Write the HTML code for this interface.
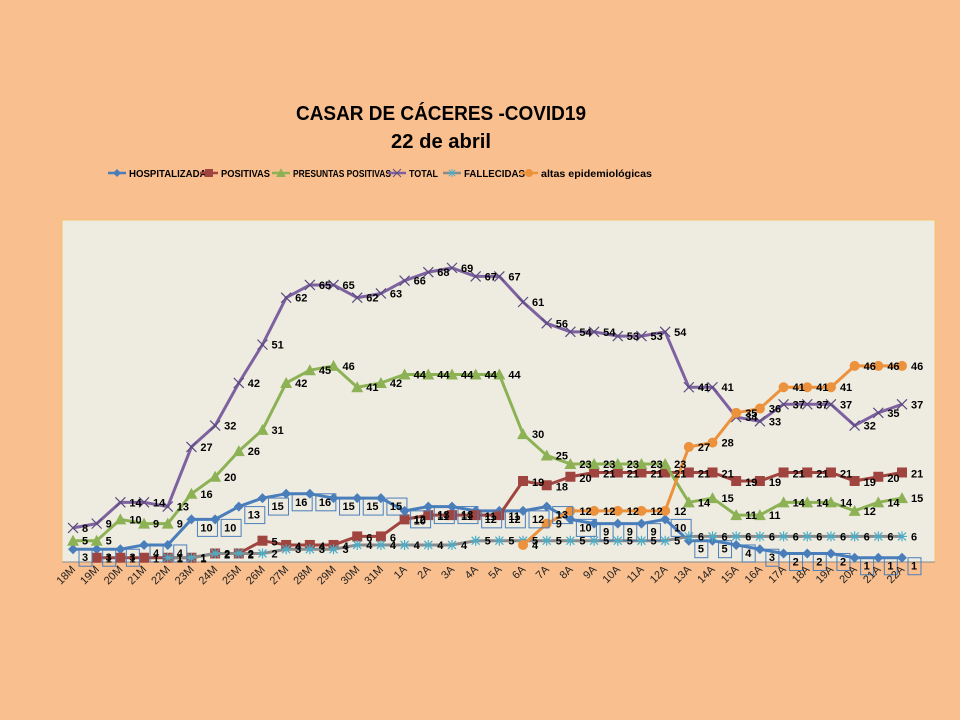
<!DOCTYPE html>
<html><head><meta charset="utf-8"><style>
html,body{margin:0;padding:0;background:#fabf8f;}
svg{display:block;font-family:"Liberation Sans",sans-serif;}
</style></head><body>
<svg id="chart" width="960" height="720" viewBox="0 0 960 720">
<rect x="0" y="0" width="960" height="720" fill="#fabf8f"/>
<text x="441" y="120" text-anchor="middle" font-size="20" font-weight="bold" textLength="290" lengthAdjust="spacingAndGlyphs">CASAR DE CÁCERES -COVID19</text>
<text x="441" y="148" text-anchor="middle" font-size="20" font-weight="bold" textLength="100" lengthAdjust="spacingAndGlyphs">22 de abril</text>
<g id="legend"></g>
<rect x="62" y="220" width="873" height="342" fill="#eeece1" stroke="#f5c36b" stroke-width="1"/>
<line x1="62" y1="562" x2="935" y2="562" stroke="#888" stroke-width="1"/>
<g id="series"></g>
<g id="labels"></g>
<g id="xticks"></g>
</svg>
<script>
const categories=["18M","19M","20M","21M","22M","23M","24M","25M","26M","27M","28M","29M","30M","31M","1A","2A","3A","4A","5A","6A","7A","8A","9A","10A","11A","12A","13A","14A","15A","16A","17A","18A","19A","20A","21A","22A"];
const hospitalizadas=[3,3,3,4,4,10,10,13,15,16,16,15,15,15,12,13,13,12,12,12,13,10,9,9,9,10,5,5,4,3,2,2,2,1,1,1];
const positivas=[null,1,1,1,1,1,2,2,5,4,4,4,6,6,10,11,11,11,11,19,18,20,21,21,21,21,21,21,19,19,21,21,21,19,20,21];
const presuntas=[5,5,10,9,9,16,20,26,31,42,45,46,41,42,44,44,44,44,44,30,25,23,23,23,23,23,14,15,11,11,14,14,14,12,14,15];
const total=[8,9,14,14,13,27,32,42,51,62,65,65,62,63,66,68,69,67,67,61,56,54,54,53,53,54,41,41,34,33,37,37,37,32,35,37];
const fallecidas=[null,null,null,null,1,1,2,2,2,3,3,3,4,4,4,4,4,5,5,5,5,5,5,5,5,5,6,6,6,6,6,6,6,6,6,6];
const altas=[null,null,null,null,null,null,null,null,null,null,null,null,null,null,null,null,null,null,null,4,9,12,12,12,12,12,27,28,35,36,41,41,41,46,46,46];
const yMax=80;
const NS="http://www.w3.org/2000/svg";
const X0=73,X1=902,Y0=562,Y1=221;
function xPos(i){return X0+i*(X1-X0)/(categories.length-1);}
function yPos(v){return Y0-v*(Y0-Y1)/yMax;}
function mk(t,a,p){const e=document.createElementNS(NS,t);for(const k in a)e.setAttribute(k,a[k]);(p||document.getElementById('series')).appendChild(e);return e;}
function marker(type,x,y,color,g){
  let e;
  if(type==='diamond'){e=mk('polygon',{points:`${x},${y-5} ${x+5},${y} ${x},${y+5} ${x-5},${y}`,fill:color},g);}
  else if(type==='square'){e=mk('rect',{x:x-5,y:y-5,width:10,height:10,fill:color},g);}
  else if(type==='triangle'){e=mk('polygon',{points:`${x},${y-6} ${x+6},${y+5} ${x-6},${y+5}`,fill:color},g);}
  else if(type==='circle'){e=mk('circle',{cx:x,cy:y,r:5,fill:color},g);}
  else if(type==='x'){e=mk('path',{d:`M${x-5},${y-5}L${x+5},${y+5}M${x-5},${y+5}L${x+5},${y-5}`,stroke:color,'stroke-width':1.2},g);}
  else {e=mk('path',{d:`M${x-5},${y}L${x+5},${y}M${x},${y-5}L${x},${y+5}M${x-4},${y-4}L${x+4},${y+4}M${x-4},${y+4}L${x+4},${y-4}`,stroke:color,'stroke-width':1.2},g);}
  return e;
}
const seriesDefs=[
 {name:'hospitalizadas',label:'HOSPITALIZADAS',data:hospitalizadas,color:'#4a7ebb',m:'diamond',mc:'#4a7ebb',box:true,dy:12},
 {name:'positivas',label:'POSITIVAS',data:positivas,color:'#a0443f',m:'square',mc:'#a0443f',dy:5},
 {name:'presuntas-positivas',label:'PRESUNTAS POSITIVAS',data:presuntas,color:'#8db255',m:'triangle',mc:'#8db255',dy:4},
 {name:'total',label:'TOTAL',data:total,color:'#7e62a0',m:'x',mc:'#5b4a80',dy:4},
 {name:'fallecidas',label:'FALLECIDAS',data:fallecidas,color:'#8a8a8a',m:'star',mc:'#4bacc6',dy:4},
 {name:'altas',label:'altas epidemiológicas',data:altas,color:'#ec913c',m:'circle',mc:'#ec913c',dy:4}
];
const sg=document.getElementById('series'),lg=document.getElementById('labels');
seriesDefs.forEach(s=>{
  const g=mk('g',{},sg);
  
  
  let d='';let started=false;
  s.data.forEach((v,i)=>{if(v===null)return;d+=(started?'L':'M')+xPos(i)+','+yPos(v);started=true;});
  const p=mk('path',{d:d,fill:'none',stroke:s.color,'stroke-width':3,'stroke-linejoin':'round'},g);
  
  
  s.data.forEach((v,i)=>{
    if(v===null)return;
    const x=xPos(i),y=yPos(v);
    const m=marker(s.m,x,y,s.mc,g);
    
    
    const t=mk('text',{x:x+9,y:y+s.dy,'font-size':11,'font-weight':'bold',fill:'#000'},lg);
    t.textContent=v;
    
    
    if(s.box){
      const w=String(v).length*7+6;
      const r=mk('rect',{x:x+6,y:y+s.dy-12,width:w,height:17,fill:'none',stroke:'#4a7ebb','stroke-width':1},lg);
      
      
    }
  });
});
const xg=document.getElementById('xticks');
categories.forEach((c,i)=>{
  const x=xPos(i);
  const t=mk('text',{x:x+3,y:570,'font-size':11,'text-anchor':'end',transform:`rotate(-45 ${x+3} 570)`,fill:'#222'},xg);
  t.textContent=c;
  
  
});
const legendX=[108,200,272,388,443,520];
const lgEl=document.getElementById('legend');
seriesDefs.forEach((s,i)=>{
  const g=mk('g',{},lgEl);
  
  
  const x=legendX[i];
  mk('line',{x1:x,y1:173,x2:x+18,y2:173,stroke:s.color,'stroke-width':2.5},g);
  const m=marker(s.m,x+9,173,s.mc,g);
  m.setAttribute('transform',`translate(${x+9},173) scale(0.8) translate(${-(x+9)},-173)`);
  const t=mk('text',{x:x+21,y:177,'font-size':10,'font-weight':'bold',fill:'#000'},g);
  t.textContent=s.label;
  t.setAttribute('textLength',[84,49,98,29,61,111][i]);
  t.setAttribute('lengthAdjust','spacingAndGlyphs');
});
</script>
</body></html>
